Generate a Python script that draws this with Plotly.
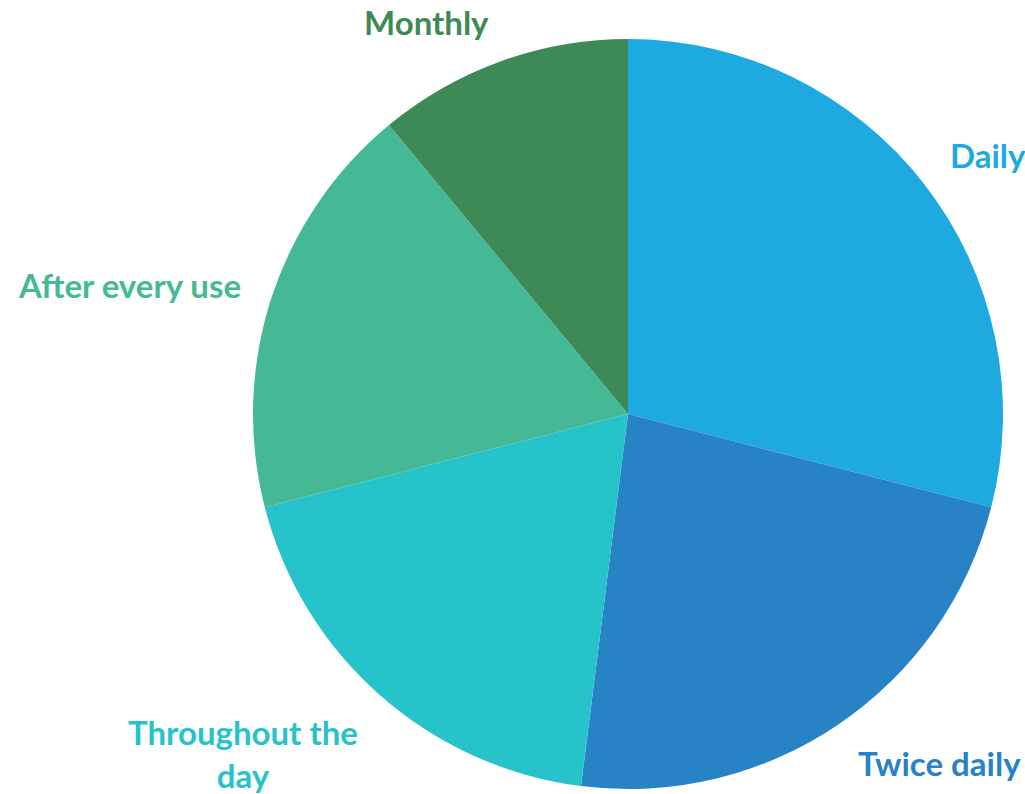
import math
import plotly.graph_objects as go

categories = ["Daily", "Twice daily", "Throughout the<br>day", "After every use", "Monthly"]
values = [29, 23, 19, 18, 11]
colors = ["#1EAAE1", "#2882C6", "#27C3CA", "#45B995", "#3E8A56"]

fig = go.Figure(go.Pie(
    labels=categories,
    values=values,
    sort=False,
    direction="clockwise",
    rotation=0,
    marker=dict(colors=colors, line=dict(width=0)),
    textinfo="none",
    showlegend=False,
    automargin=False,
    hoverinfo="label+percent",
))

# Outside-end labels placed from each slice's mid-angle
total = sum(values)
cum = 0.0
label_dist = 0.54  # in paper units (pie radius = 0.5)
for lab, v, c in zip(categories, values, colors):
    mid = (cum + v / 2) / total * 2 * math.pi
    cum += v
    s, co = math.sin(mid), math.cos(mid)
    xa = "left" if s > 0.3 else ("right" if s < -0.3 else "center")
    ya = "bottom" if co > 0.5 else ("top" if co < -0.5 else "middle")
    ys = -11 if ya == "bottom" else (8 if ya == "top" else 4)
    fig.add_annotation(
        x=0.5 + label_dist * s,
        y=0.5 + label_dist * co,
        xref="paper", yref="paper",
        text=f"<b>{lab}</b>",
        showarrow=False,
        xanchor=xa, yanchor=ya,
        yshift=ys,
        align="center",
        font=dict(family="Lato", size=33, color=c),
    )

fig.update_layout(
    width=1025,
    height=794,
    margin=dict(l=253, r=22, t=39, b=5),
    paper_bgcolor="white",
    plot_bgcolor="white",
)

fig.write_html(
    "out.html",
    config={"displayModeBar": False},
    post_script="document.body.style.margin='0';document.body.style.overflow='hidden';",
)
